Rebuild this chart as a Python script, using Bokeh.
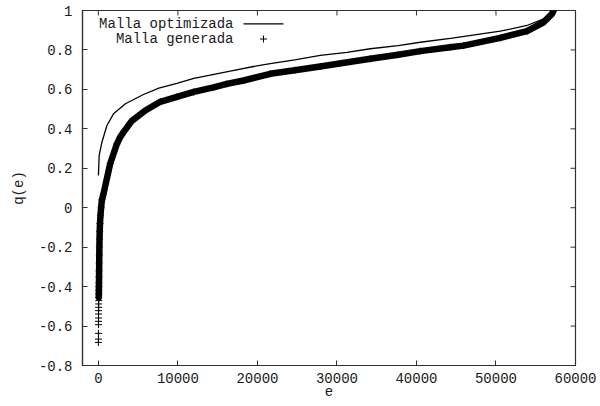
from bokeh.plotting import figure
from bokeh.models import Range1d, FixedTicker
from bokeh.core.properties import value
from bokeh.embed import file_html
from bokeh.resources import INLINE

# ---- data ----
x_ticks = [0, 10000, 20000, 30000, 40000, 50000, 60000]
x_tick_labels = ["0", "10000", "20000", "30000", "40000", "50000", "60000"]
y_ticks = [-0.8, -0.6, -0.4, -0.2, 0.0, 0.2, 0.4, 0.6, 0.8, 1.0]
y_tick_labels = ["-0.8", "-0.6", "-0.4", "-0.2", "0", "0.2", "0.4", "0.6", "0.8", "1"]

opt_x = [0, 100, 440, 1070, 1900, 3400, 5670, 7600, 9870, 12000, 14060, 16580, 19510,
         21610, 24700, 27900, 31260, 34190, 37700, 40480, 44500, 50540, 53900, 55990,
         57040, 57250]
opt_y = [0.163, 0.265, 0.332, 0.417, 0.476, 0.527, 0.574, 0.606, 0.630, 0.656, 0.672,
         0.693, 0.716, 0.731, 0.750, 0.772, 0.788, 0.806, 0.822, 0.839, 0.860, 0.895,
         0.924, 0.958, 0.991, 1.0]

gen_x = [0, 3, 6, 10, 13, 16, 20, 24, 28, 34, 40, 46, 52, 58, 64, 72, 80, 90, 100, 112,
         125, 140, 165, 200, 260, 340, 440, 640, 1480, 2330, 2740, 3160, 4200, 5900, 7770,
         9870, 12000, 14480, 16160, 18250, 21610, 24700, 27900, 34190, 37700, 40480,
         44250, 45920, 50540, 53900, 55990, 57040, 57250]
gen_y = [-0.683, -0.666, -0.637, -0.593, -0.576, -0.559, -0.539, -0.522, -0.505, -0.488,
         -0.471, -0.454, -0.437, -0.42, -0.40, -0.38, -0.35, -0.32, -0.28, -0.24,
         -0.20, -0.16, -0.12, -0.08, -0.04, 0.0, 0.04, 0.07, 0.223, 0.324, 0.358, 0.383,
         0.44, 0.493, 0.537, 0.562, 0.587, 0.61, 0.628, 0.645, 0.679, 0.697, 0.716,
         0.755, 0.776, 0.794, 0.814, 0.822, 0.861, 0.895, 0.94, 0.983, 1.0]

legend_labels = ["Malla optimizada", "Malla generada"]
x_label = "e"
y_label = "q(e)"

# ---- layout ----
W, H = 600, 406
BL, BR, BT, BB = 82, 25, 10, 41
X0, X1 = -2000, 60000
Y0, Y1 = -0.8, 1.0
FW, FH = W - BL - BR, H - BT - BB
FONT = "Liberation Mono"
INK = "#1a1a1a"
FRAME = "#303030"
TICK = 5


def dx(px):
    return X0 + (px - BL) / FW * (X1 - X0)


def dy(py):
    return Y1 - (py - BT) / FH * (Y1 - Y0)


p = figure(width=W, height=H, output_backend="svg", toolbar_location=None,
           x_range=Range1d(X0, X1), y_range=Range1d(Y0, Y1),
           min_border_left=BL, min_border_right=BR, min_border_top=BT, min_border_bottom=BB)
p.grid.visible = False
p.outline_line_color = FRAME
p.outline_line_width = 1.2
p.background_fill_color = "white"
p.border_fill_color = "white"


def style_axis(ax, ticks, labels, label):
    ax.ticker = FixedTicker(ticks=ticks, minor_ticks=[])
    ax.major_label_overrides = {t: l for t, l in zip(ticks, labels)}
    ax.major_tick_in = TICK
    ax.major_tick_out = 0
    ax.minor_tick_in = 0
    ax.minor_tick_out = 0
    ax.axis_line_color = FRAME
    ax.axis_line_width = 1.2
    ax.major_tick_line_color = FRAME
    ax.major_tick_line_width = 1
    ax.major_label_text_font = FONT
    ax.major_label_text_color = INK
    ax.major_label_text_font_size = "14px"
    ax.axis_label = label
    ax.axis_label_text_font = FONT
    ax.axis_label_text_font_size = "14px"
    ax.axis_label_text_font_style = "normal"
    ax.axis_label_text_color = INK


xa = p.xaxis[0]
style_axis(xa, x_ticks, x_tick_labels, x_label)
xa.major_label_standoff = 7
xa.axis_label_standoff = 0

ya = p.yaxis[0]
style_axis(ya, y_ticks, y_tick_labels, y_label)
ya.major_label_standoff = 10
ya.axis_label_standoff = 9

# mirrored ticks on top and right borders (gnuplot style)
tick_dy = TICK / FH * (Y1 - Y0)
tick_dx = TICK / FW * (X1 - X0)
p.segment(x0=x_ticks, y0=[Y1] * len(x_ticks), x1=x_ticks, y1=[Y1 - tick_dy] * len(x_ticks),
          line_color=FRAME, line_width=1)
p.segment(x0=[X1] * len(y_ticks), y0=y_ticks, x1=[X1 - tick_dx] * len(y_ticks), y1=y_ticks,
          line_color=FRAME, line_width=1)

# ---- series ----
p.line(opt_x, opt_y, line_color="black", line_width=1.3)

band_x = [x for x, y in zip(gen_x, gen_y) if y > -0.46]
band_y = [y for y in gen_y if y > -0.46]
p.line(band_x, band_y, line_color="black", line_width=6.5, line_join="round", line_cap="round")
p.scatter(gen_x, gen_y, marker="cross", size=7, line_color="black", line_width=1)

# ---- legend (gnuplot style: text right-aligned, sample to the right) ----
p.text(x=[dx(233), dx(233)], y=[dy(23.5), dy(38.5)], text=legend_labels,
       text_font=value(FONT), text_font_size="14px", text_align="right",
       text_baseline="middle", text_color=INK)
p.line([dx(243), dx(283)], [dy(23.3), dy(23.3)], line_color="black", line_width=1.3)
p.scatter([dx(263)], [dy(38.5)], marker="cross", size=7, line_color="black", line_width=1)

open("out.html", "w").write(file_html(p, INLINE))
